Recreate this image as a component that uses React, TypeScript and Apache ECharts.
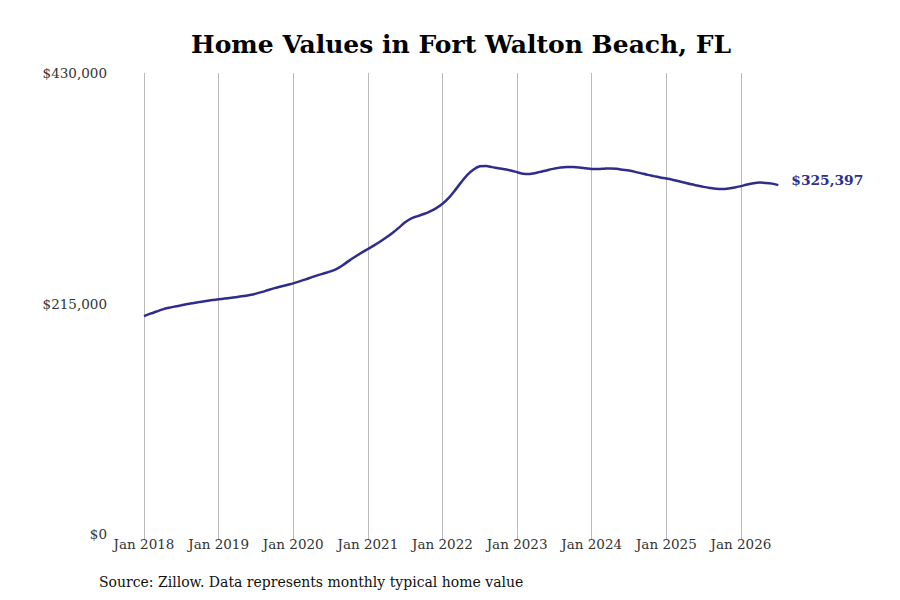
import React, { useEffect, useRef } from "react";
import * as echarts from "echarts";

const TITLE = "Home Values in Fort Walton Beach, FL";
const SOURCE = "Source: Zillow. Data represents monthly typical home value";
const START_YEAR = 2018;
const MONTH_NAMES = ["Jan", "Feb", "Mar", "Apr", "May", "Jun", "Jul", "Aug", "Sep", "Oct", "Nov", "Dec"];

// Typical home value (thousands of $), monthly Jan 2018 .. Jul 2026
const v2018 = [203.3, 205.5, 207.5, 209.5, 211.0, 212.2, 213.3, 214.5, 215.5, 216.5, 217.4, 218.2];
const v2019 = [218.9, 219.6, 220.3, 221.0, 221.9, 222.9, 224.2, 225.8, 227.6, 229.3, 230.8, 232.3];
const v2020 = [233.8, 235.6, 237.5, 239.6, 241.5, 243.2, 244.9, 247.3, 250.9, 255.0, 258.8, 262.4];
const v2021 = [265.8, 269.2, 272.8, 276.7, 281.0, 285.8, 290.8, 294.5, 296.5, 298.5, 301.0, 304.0];
const v2022 = [308.0, 313.5, 320.5, 328.0, 335.0, 340.0, 343.0, 343.3, 342.2, 341.2, 340.2, 339.0];
const v2023 = [337.5, 336.0, 335.8, 336.8, 338.2, 339.6, 340.8, 341.8, 342.3, 342.3, 341.9, 341.2];
const v2024 = [340.5, 340.4, 340.7, 341.0, 340.6, 339.8, 339.0, 337.8, 336.4, 335.0, 333.8, 332.6];
const v2025 = [331.6, 330.4, 329.0, 327.6, 326.2, 325.0, 323.8, 322.8, 322.0, 321.8, 322.3, 323.2];
const v2026 = [324.5, 326.0, 327.2, 327.8, 327.5, 326.8, 325.397];

const valuesK = [...v2018, ...v2019, ...v2020, ...v2021, ...v2022, ...v2023, ...v2024, ...v2025, ...v2026];
const values = valuesK.map((v) => Math.round(v * 1000));
const categories = values.map((_, i) => `${MONTH_NAMES[i % 12]} ${START_YEAR + Math.floor(i / 12)}`);

const Y_MIN = 0;
const Y_MAX = 430000;
const Y_STEP = 215000;

const LINE_COLOR = "#2e2d8e";
const FONT = "DejaVu Serif";

const fmtMoney = (v: number) => "$" + Math.round(v).toLocaleString("en-US");

export default function App() {
  const ref = useRef<HTMLDivElement>(null);
  useEffect(() => {
    if (!ref.current) return;
    const chart = echarts.init(ref.current, undefined, { renderer: "svg" });
    chart.setOption({
      animation: false,
      backgroundColor: "#ffffff",
      grid: { left: 144, right: 121.7, top: 73, bottom: 66, containLabel: false },
      graphic: [
        {
          type: "text",
          x: 461,
          y: 44,
          style: {
            text: TITLE,
            font: `bold 25px "${FONT}"`,
            fill: "#000",
            textAlign: "center",
            textVerticalAlign: "middle",
          },
        },
        {
          type: "text",
          x: 99,
          y: 582,
          style: {
            text: SOURCE,
            font: `14px "${FONT}"`,
            fill: "#111",
            textAlign: "left",
            textVerticalAlign: "middle",
          },
        },
      ],
      xAxis: {
        type: "category",
        data: categories,
        boundaryGap: false,
        axisLine: { show: false },
        axisTick: {
          show: true,
          interval: (i: number) => i % 12 === 0,
          length: 6,
          lineStyle: { color: "#bbb" },
        },
        axisLabel: {
          interval: (i: number) => i % 12 === 0,
          color: "#333",
          fontFamily: FONT,
          fontSize: 13.5,
          margin: 3,
        },
        splitLine: {
          show: true,
          interval: (i: number) => i % 12 === 0,
          lineStyle: { color: "#bbb", width: 1 },
        },
      },
      yAxis: {
        type: "value",
        min: Y_MIN,
        max: Y_MAX,
        interval: Y_STEP,
        axisLine: { show: false },
        axisTick: { show: false },
        splitLine: { show: false },
        axisLabel: {
          formatter: (v: number) => fmtMoney(v),
          color: "#333",
          fontFamily: FONT,
          fontSize: 13.5,
          margin: 37,
        },
      },
      series: [
        {
          type: "line",
          data: values,
          smooth: 0.3,
          symbol: "none",
          lineStyle: { color: LINE_COLOR, width: 2.5 },
          endLabel: {
            show: true,
            formatter: (p: any) => fmtMoney(p.value),
            color: LINE_COLOR,
            fontFamily: FONT,
            fontWeight: "bold",
            fontSize: 13.8,
            distance: 13,
            offset: [0, -5],
          },
        },
      ],
    });
    return () => chart.dispose();
  }, []);
  return (
    <div
      ref={ref}
      style={{ position: "fixed", left: 0, top: 0, width: 900, height: 600 }}
    />
  );
}
